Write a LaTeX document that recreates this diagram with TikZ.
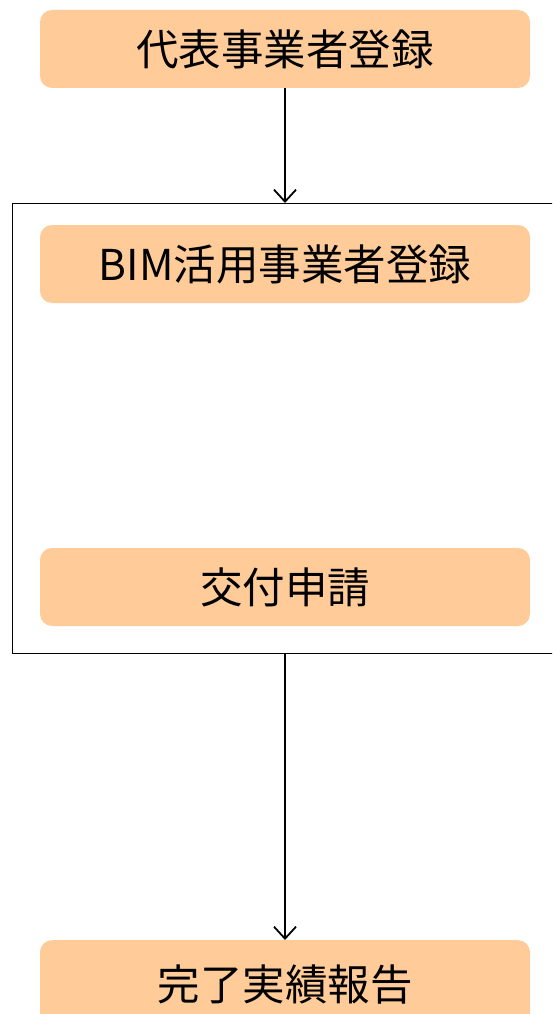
\documentclass[tikz,border=0pt]{standalone}
\usepackage{fontspec}
\newfontfamily\jpfont{Noto Sans CJK JP}
\usetikzlibrary{arrows.meta}
\definecolor{boxfill}{HTML}{FFCC99}
\begin{document}
\begin{tikzpicture}[x=1pt,y=-1pt,
  stepbox/.style={fill=boxfill,rounded corners=12pt,minimum width=490pt,minimum height=78pt,inner sep=0pt,
    font=\jpfont\fontsize{42.5}{50}\selectfont,text=black},
  flow/.style={draw=black,line width=1.8pt,-{Straight Barb[length=12pt,width=22pt,line width=1.8pt]}}]
\useasboundingbox (0,0) rectangle (552,1014);
\clip (0,0) rectangle (552,1014);
\fill[white] (0,0) rectangle (552,1014);
\node[draw=black,line width=1.2pt,minimum width=560pt,minimum height=450pt,inner sep=0pt,anchor=north west] (grp) at (12,203) {};
\node[stepbox] (a) at (285,49) {代表事業者登録};
\node[stepbox] (b) at (285,264) {BIM活用事業者登録};
\node[stepbox] (c) at (285,587) {交付申請};
\node[stepbox,minimum height=92pt,anchor=north] (d) at (285,940) {};
\node[font=\jpfont\fontsize{42.5}{50}\selectfont] (dt) at (285,985) {完了実績報告};
\coordinate (ga) at (285,203);
\coordinate (gb) at (285,653);
\draw[flow] (a.south) -- (ga);
\draw[flow] (gb) -- (d.north);
\end{tikzpicture}
\end{document}
